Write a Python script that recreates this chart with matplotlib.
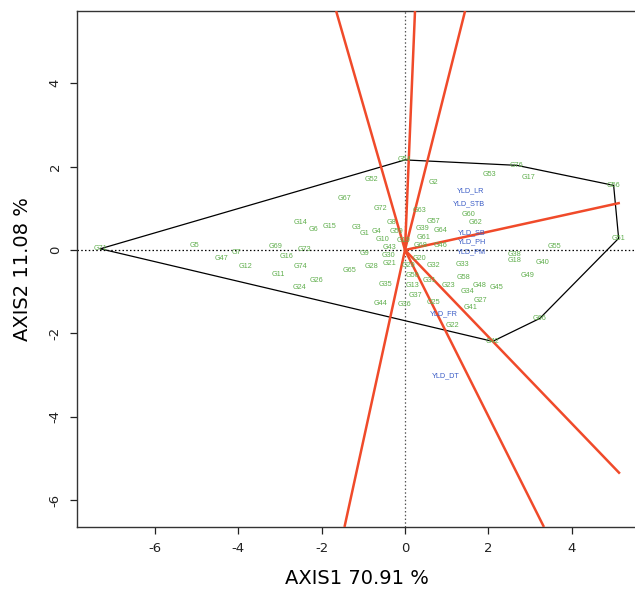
import numpy as np
import matplotlib
matplotlib.use("Agg")
import matplotlib.pyplot as plt

# ---------------- data ----------------
geno_names = ["G1","G2","G3","G4","G5","G6","G7","G8","G9","G10",
              "G11","G12","G13","G14","G15","G16","G17","G18","G19","G20",
              "G21","G22","G23","G24","G25","G26","G27","G28","G29","G30",
              "G31","G32","G33","G34","G35","G36","G37","G38","G39","G40",
              "G41","G42","G43","G44","G45","G46","G47","G48","G49","G50",
              "G51","G52","G53","G54","G55","G56","G57","G58","G59","G60",
              "G61","G62","G63","G64","G65","G66","G67","G68","G69","G71",
              "G72","G73","G74","G76"]
geno_x = [-0.96, 0.68, -1.16, -0.68, -5.05, -2.20, -4.05, -0.32, -0.98, -0.54,
          -3.03, -3.83, 0.18, -2.51, -1.81, -2.83, 2.95, 2.62, -0.03, 0.34,
          -0.38, 1.13, 1.04, -2.53, 0.68, -2.13, 1.81, -0.80, 0.08, -0.40,
          0.58, 0.69, 1.38, 1.49, -0.46, 0.00, 0.26, 2.63, 0.41, 3.30,
          1.56, 2.10, -0.38, -0.58, 2.20, 0.85, -4.39, 1.78, 2.93, 0.18,
          5.12, -0.80, 2.02, 0.00, 3.59, 5.00, 0.68, 1.41, -0.20, 1.53,
          0.44, 1.70, 0.34, 0.85, -1.33, 3.23, -1.44, 0.38, -3.09, -7.30,
          -0.60, -2.42, -2.51, 2.68]
geno_y = [0.40, 1.61, 0.54, 0.45, 0.10, 0.48, -0.06, 0.66, -0.08, 0.26,
          -0.58, -0.40, -0.86, 0.66, 0.56, -0.16, 1.73, -0.26, 0.22, -0.20,
          -0.32, -1.80, -0.86, -0.90, -1.25, -0.74, -1.21, -0.40, -0.38, -0.13,
          -0.74, -0.38, -0.34, -1.00, -0.82, -1.30, -1.10, -0.10, 0.52, -0.29,
          -1.38, -2.19, 0.06, -1.29, -0.90, 0.12, -0.21, -0.86, -0.62, -0.60,
          0.28, 1.70, 1.81, 2.16, 0.08, 1.55, 0.68, -0.67, 0.45, 0.86,
          0.30, 0.66, 0.94, 0.46, -0.48, -1.64, 1.23, 0.10, 0.08, 0.03,
          1.00, 0.02, -0.40, 2.03]

env_names = ["YLD_LR", "YLD_STB", "YLD_SB", "YLD_PH", "YLD_PM", "YLD_FR", "YLD_DT"]
env_x = [1.56, 1.54, 1.60, 1.60, 1.58, 0.94, 0.98]
env_y = [1.41, 1.12, 0.42, 0.20, -0.04, -1.54, -3.02]

# sector rays (end points)
ray_end_x = [-1.65, 0.24, 1.44, 5.15, 5.15, 3.33, -1.45]
ray_end_y = [5.73, 5.73, 5.73, 1.13, -5.36, -6.64, -6.64]

x_ticks = [-6, -4, -2, 0, 2, 4]
y_ticks = [-6, -4, -2, 0, 2, 4]
x_label = "AXIS1 70.91 %"
y_label = "AXIS2 11.08 %"

# ---------------- helpers ----------------
def convex_hull(xs, ys):
    pts = sorted(set(zip(xs, ys)))
    def cross(o, a, b):
        return (a[0]-o[0])*(b[1]-o[1]) - (a[1]-o[1])*(b[0]-o[0])
    lower = []
    for p in pts:
        while len(lower) >= 2 and cross(lower[-2], lower[-1], p) <= 0:
            lower.pop()
        lower.append(p)
    upper = []
    for p in reversed(pts):
        while len(upper) >= 2 and cross(upper[-2], upper[-1], p) <= 0:
            upper.pop()
        upper.append(p)
    return lower[:-1] + upper[:-1]

# ---------------- figure ----------------
fig = plt.figure(figsize=(6.35, 5.9), dpi=100)
ax = fig.add_axes([77/635, 1-527/590, 560/635, (527-11)/590])
ax.set_xlim(-7.86, 5.56)
ax.set_ylim(-6.64, 5.73)

ax.axhline(0, color="black", lw=0.9, ls=(0, (1.2, 1.8)), zorder=1)
ax.axvline(0, color="#555555", lw=0.9, ls=(0, (1.2, 1.8)), zorder=1)

hull = convex_hull(geno_x, geno_y)
hx = [p[0] for p in hull] + [hull[0][0]]
hy = [p[1] for p in hull] + [hull[0][1]]
ax.plot(hx, hy, color="black", lw=0.9, zorder=2)

for ex, ey in zip(ray_end_x, ray_end_y):
    ax.plot([0, ex], [0, ey], color="#F04A2A", lw=1.8, zorder=3,
            solid_capstyle="butt")

for n, x, y in zip(geno_names, geno_x, geno_y):
    ax.text(x, y, n, color="#5FAE4C", fontsize=5.2, ha="center", va="center",
            family="Liberation Sans", zorder=4)
for n, x, y in zip(env_names, env_x, env_y):
    ax.text(x, y, n, color="#3A5CC6", fontsize=5.2, ha="center", va="center",
            family="Liberation Sans", zorder=4)

ax.set_xticks(x_ticks)
ax.set_yticks(y_ticks)
ax.set_xticklabels([str(t) for t in x_ticks])
ax.set_yticklabels([str(t) for t in y_ticks], rotation=90, va="center")
ax.tick_params(direction="out", length=5, width=0.9, colors="#222222",
               labelsize=9.5, pad=6)
for s in ax.spines.values():
    s.set_color("#333333")
    s.set_linewidth(1.0)

ax.set_xlabel(x_label, fontsize=14, labelpad=10, family="DejaVu Sans")
ax.set_ylabel(y_label, fontsize=14, labelpad=12, family="DejaVu Sans")

fig.savefig("out.png", dpi=100)
